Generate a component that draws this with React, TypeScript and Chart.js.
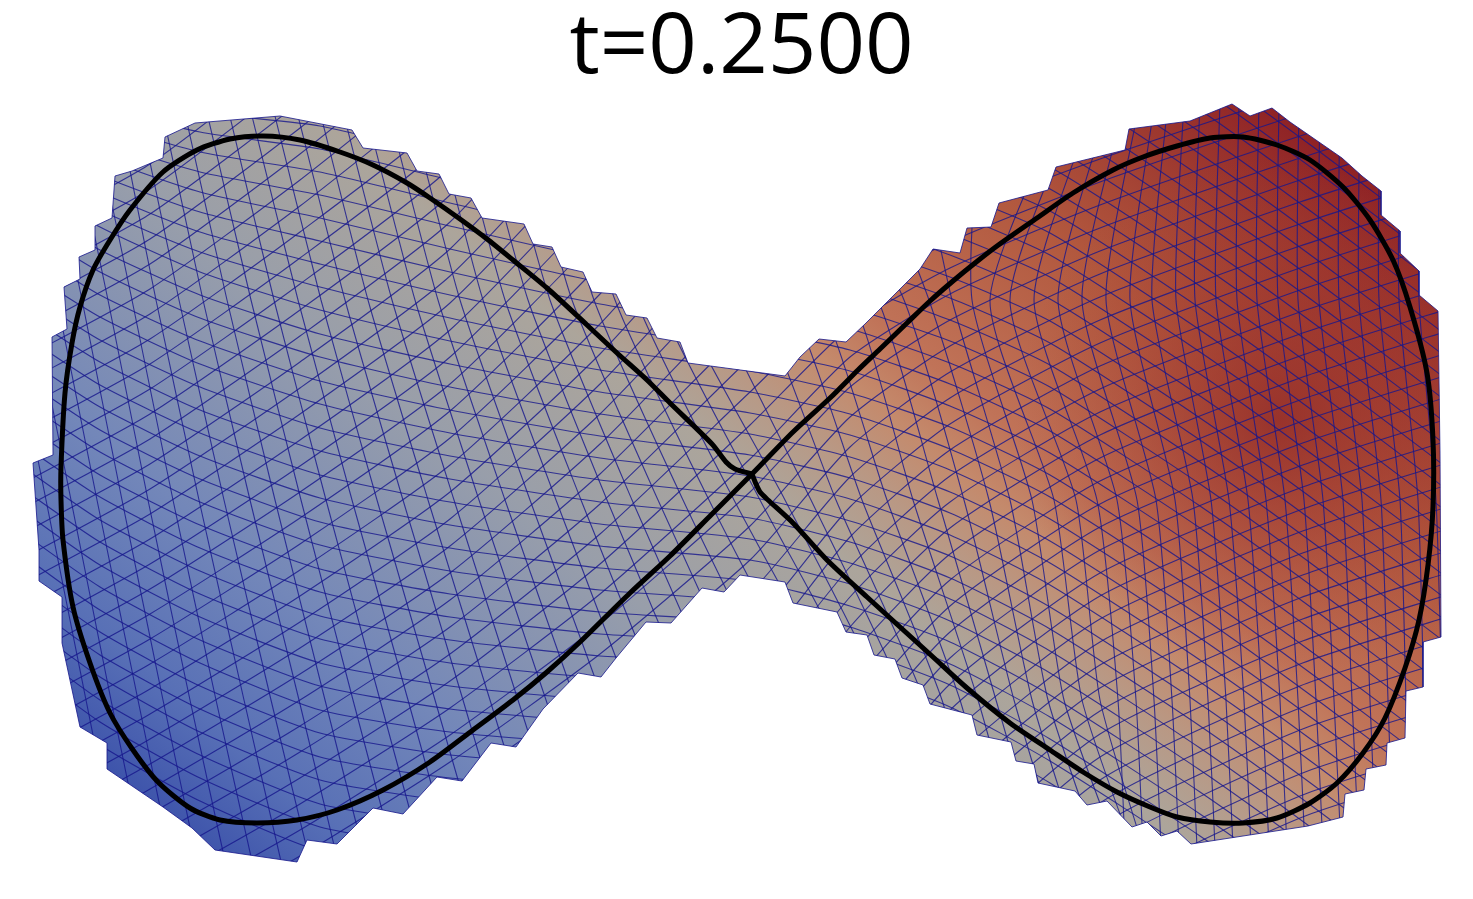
import React, { useEffect, useRef } from "react";
import { Chart, registerables } from "chart.js";

Chart.register(...registerables);

const titleText = "t=0.2500";

const boundary: number[][] = [
  [165,137],[195,123],[280,116],[352,130],[363,148],[407,153],[417,171],[439,174],[449,194],[471,198],[482,218],[524,224],[533,244],[552,247],[561,267],[583,272],[592,292],[616,294],[626,315],[647,318],[657,338],[680,342],[688,363],[785,376],[800,357],[819,339],[846,342],[865,324],[883,306],[902,287],[920,269],[933,249],[960,253],[967,228],[991,227],[999,203],[1048,190],[1056,167],[1125,150],[1129,129],[1190,121],[1232,104],[1250,116],[1272,108],[1290,122],[1342,158],[1362,176],[1381,191],[1381,215],[1400,231],[1400,253],[1419,271],[1419,295],[1438,311],[1440,453],[1441,637],[1423,642],[1423,687],[1406,691],[1405,738],[1387,743],[1386,765],[1366,769],[1364,790],[1345,794],[1343,817],[1308,826],[1191,844],[1177,831],[1161,836],[1147,822],[1132,827],[1107,801],[1087,805],[1075,791],[1038,783],[1034,764],[1016,761],[1011,742],[977,735],[972,715],[930,704],[923,685],[902,678],[895,659],[874,655],[867,635],[846,632],[837,612],[793,603],[785,582],[740,575],[724,592],[702,588],[671,623],[646,622],[616,658],[601,677],[578,673],[543,709],[516,747],[491,743],[462,781],[437,777],[403,814],[373,808],[337,844],[307,840],[297,862],[215,850],[192,828],[163,807],[107,769],[107,743],[80,727],[62,643],[62,597],[39,581],[39,550],[33,463],[53,455],[52,337],[67,329],[64,287],[80,279],[79,257],[95,250],[95,226],[112,218],[115,176],[132,171],[163,158],[165,137],
];

const curve: number[][] = [
  [752,474],[735,469],[726,462],[712,444],[670,403],[647,380],[617,353],[587,325],[547,288],[513,260],[487,239],[460,219],[430,198],[407,183],[373,165],[340,152],[300,140],[263,136],[230,139],[197,150],[163,172],[130,210],[110,240],[93,270],[80,307],[72,343],[65,393],[61,467],[61,500],[63,540],[73,607],[90,663],[110,713],[133,750],[158,782],[190,808],[220,820],[257,823],[297,820],[337,810],[383,790],[430,762],[473,730],[513,700],[547,672],[580,642],[630,593],[670,556],[712,514],[752,474],[793,432],[830,398],[858,370],[880,349],[907,323],[930,301],[953,281],[975,263],[997,246],[1037,218],[1073,193],[1113,170],[1143,157],[1177,146],[1210,138],[1243,137],[1277,145],[1310,160],[1343,187],[1370,220],[1393,260],[1410,307],[1427,373],[1433,440],[1433,507],[1428,565],[1419,620],[1405,668],[1385,718],[1363,753],[1337,783],[1310,803],[1277,818],[1243,823],[1210,822],[1177,817],[1150,807],[1117,792],[1083,772],[1050,750],[1010,723],[967,688],[933,657],[900,627],[867,597],[827,560],[793,523],[768,500],[760,492],[756,484],[752,474],
];

const rowStationsX = [20,100,200,320,450,600,750,850,950,1050,1200,1320,1470];
const rowYs: number[][] = [
  [-29,0,12,11,42,84,119,137,170,211,308,394,507],
  [-13,17,32,34,65,106,140,158,191,233,330,416,529],
  [3,35,52,57,88,128,161,180,212,255,352,438,551],
  [19,52,72,80,111,150,182,201,234,277,374,460,573],
  [35,70,92,103,134,172,203,222,255,299,396,482,595],
  [51,87,112,126,157,194,224,244,277,321,418,504,617],
  [67,105,132,149,180,216,245,265,298,343,440,526,639],
  [83,122,152,172,203,238,266,286,320,365,462,548,661],
  [99,140,172,195,226,260,287,308,341,387,484,570,683],
  [115,157,192,218,249,282,308,329,363,409,506,592,705],
  [131,175,212,241,272,304,329,350,384,431,528,614,727],
  [147,192,232,264,295,326,350,371,406,453,550,636,749],
  [163,210,252,287,318,348,371,393,427,475,572,658,771],
  [179,227,272,310,341,370,392,414,449,497,594,680,793],
  [201,250,295,334,364,392,413,435,470,519,616,702,815],
  [223,272,318,357,387,414,434,457,492,541,638,724,837],
  [245,295,341,381,410,436,455,478,513,563,660,746,859],
  [267,317,364,404,433,458,476,499,535,585,682,768,881],
  [289,340,387,428,456,480,497,521,556,607,704,790,903],
  [311,362,410,451,479,502,518,542,578,629,726,812,925],
  [333,385,433,475,502,524,539,563,599,651,748,834,947],
  [355,407,456,498,525,546,560,584,621,673,770,856,969],
  [377,430,479,522,548,568,581,606,642,695,792,878,991],
  [399,452,502,545,571,590,602,627,664,717,814,900,1013],
  [421,475,525,569,594,612,623,648,685,739,836,922,1035],
  [443,497,548,592,617,634,644,670,707,761,858,944,1057],
  [465,520,571,616,640,656,665,691,728,783,880,966,1079],
  [487,542,594,639,663,678,686,712],
  [509,565,617,663,686,700,707,734],
  [531,587,640,686,709,722,728,755],
  [553,610,663,710,732,744,749,776],
  [575,632,686,733,755,766,770,797],
  [597,655,709,757,778,788,791,818],
  [619,677,732,780,801,810,812,840],
  [641,700,755,804,824,832,833,860],
  [663,722,778,827,847,854,854,880],
  [685,745,801,851,870,876,875,900],
];

const upperRowStationsX = [850,950,1050,1200,1320,1470];
const upperRowYs: number[][] = [
  [116,148,189,286,372,485],[95,127,167,264,350,463],[73,105,145,242,328,441],[52,84,123,220,306,419],
  [31,62,101,198,284,397],[9,41,79,176,262,375],[-12,19,57,154,240,353],[-33,-2,35,132,218,331],
  [-55,-24,13,110,196,309],[-76,-45,-9,88,174,287],[-97,-67,-31,66,152,265],[-119,-88,-53,44,130,243],[-140,-110,-75,22,108,221],
];

const upStationsX = [20,150,300,450,600,750,850,950,1100,1300,1470];
const upYs: number[][] = [
  [1110,1039,960,870,774,660,537,450,366,290,236],
  [1085,1014,934,843,744,627,507,424,343,268,214],
  [1060,989,908,816,714,593,477,398,320,246,192],
  [1035,964,882,789,684,560,447,372,297,224,170],
  [1010,939,856,762,654,526,417,346,274,202,148],
  [985,914,830,735,624,492,387,320,251,180,126],
  [960,889,804,708,594,459,357,294,228,158,104],
  [935,864,778,681,564,425,327,268,205,136,82],
  [910,839,752,654,534,392,297,242,182,114,60],
  [885,814,726,627,504,358,267,216,159,92,38],
  [860,789,700,600,474,325,237,190,136,70,16],
  [835,764,674,573,444,291,207,164,113,48,-6],
  [810,739,648,546,414,258,177,138,90,26,-28],
  [785,714,622,519,384,224,147,112,67,4],
  [760,689,596,492,354,191,117,86,44],
  [735,664,570,465,324,157,87],
  [710,639,544,438,294,124,57],
  [685,614,518,411,264,90],
  [660,589,492,384,234,57],
  [635,564,466,357,204,23],
  [610,539,440,330,174,-10],
  [585,514,414,303,144,-43],
  [560,489,388,276,114,-77],
  [535,464,362,249,84],
  [510,439,336,222,54],
  [485,414,310,195,24],
  [460,389,284,168,-6],
  [435,364,258,141,-36],
  [410,339,232,114,-66],
  [385,314,206,87],
  [360,289,180,60],
  [335,264,154,33],
  [310,239,128,6],
  [285,214,102,-21],
  [260,189,76],
  [235,164,50],
  [210,139,24],
  [185,114,-2],
];

const lowerUpStationsX = [750,850,950,1100,1300,1470];
const lowerUpYs: number[][] = [
  [693,567,476,389,312,258],[727,597,502,412,334,280],[760,627,528,435,356,302],[794,657,554,458,378,324],
  [828,687,580,481,400,346],[861,717,606,504,422,368],[895,747,632,527,444,390],[928,777,658,550,466,412],
  [962,807,684,573,488,434],[995,837,710,596,510,456],[1029,867,736,619,532,478],[1062,897,762,642,554,500],
  [1096,927,788,665,576,522],[1129,957,814,688,598,544],[1163,987,840,711,620,566],[1196,1017,866,734,642,588],
  [1230,1047,892,757,664,610],[1263,1077,918,780,686,632],[1297,1107,944,803,708,654],[1330,1137,970,826,730,676],
  [1364,1167,996,849,752,698],[1397,1197,1022,872,774,720],[1431,1227,1048,895,796,742],[1464,1257,1074,918,818,764],
];

const downStationsY = [100,300,500,700,870];
const downXs: number[][] = [
  [-60,-20,20,60,94],[-34,6,46,86,120],[-9,31,71,111,146],[16,57,97,138,173],[41,82,122,163,199],
  [66,108,148,190,227],[90,132,173,216,254],[116,156,199,244,283],[137,179,224,271,312],[160,203,250,299,340],
  [182,227,275,325,368],[204,251,301,353,398],[226,274,326,380,426],[248,298,352,408,455],[271,321,377,435,484],
  [294,345,403,463,513],[317,368,428,490,542],[340,392,454,518,572],[363,415,479,546,601],[386,438,505,575,632],
  [408,460,530,603,662],[431,483,556,632,693],[452,505,581,661,725],[474,528,607,691,758],[495,550,632,720,790],
  [517,572,658,750,834],[538,594,683,781,870],[558,615,709,813,905],[580,636,734,844,945],[600,658,760,865,905],
  [620,678,785,885,925],[630,712,811,905,945],[640,758,836,924,965],[660,790,862,942,985],[690,820,887,960,1005],
  [720,853,913,978,1025],[760,878,938,996,1045],[800,904,964,1014,1065],[850,929,989,1032,1085],[910,952,1010,1048,1105],
  [980,972,1032,1064,1125],[1065,990,1054,1082,1140],[1080,1010,1076,1100,1150],[1095,1034,1097,1118,1126],[1110,1058,1117,1136,1144],
  [1125,1082,1137,1154,1162],[1140,1106,1156,1172,1180],[1155,1130,1175,1190,1198],[1168,1152,1193,1208,1216],[1184,1176,1211,1226,1234],
  [1200,1195,1229,1244,1252],[1220,1216,1248,1262,1270],[1239,1237,1266,1280,1288],[1259,1257,1285,1298,1306],[1279,1278,1304,1316,1324],
  [1299,1298,1323,1334,1342],[1320,1319,1343,1352,1360],[1340,1339,1362,1370,1377],[1360,1359,1381,1388,1394],[1380,1379,1400,1406,1412],
  [1400,1399,1418,1424,1430],[1420,1419,1436,1442,1448],[1440,1439,1450,1456,1460],
];

const MESH = "rgba(22,22,140,0.8)";
const pairs = (p: number[][]) => p.map(([x, y]) => ({ x, y }));

const meshLine = (data: { x: number; y: number }[]) => ({
  label: "mesh",
  data,
  showLine: true,
  pointRadius: 0,
  borderColor: MESH,
  borderWidth: 1.1,
  tension: 0.2,
  fill: false,
});

const meshDatasets = [
  ...rowYs.map((ys) => meshLine(ys.map((y, i) => ({ x: rowStationsX[i], y })))),
  ...upperRowYs.map((ys) => meshLine(ys.map((y, i) => ({ x: upperRowStationsX[i], y })))),
  ...upYs.map((ys) => meshLine(ys.map((y, i) => ({ x: upStationsX[i], y })))),
  ...lowerUpYs.map((ys) => meshLine(ys.map((y, i) => ({ x: lowerUpStationsX[i], y })))),
  ...downXs.map((xs) => meshLine(xs.map((x, i) => ({ x, y: downStationsY[i] })))),
];

const tracePath = (chart: any) => {
  const { x, y } = chart.scales;
  const { ctx } = chart;
  ctx.beginPath();
  boundary.forEach(([px, py], i) => {
    const a = x.getPixelForValue(px);
    const b = y.getPixelForValue(py);
    if (i === 0) ctx.moveTo(a, b);
    else ctx.lineTo(a, b);
  });
  ctx.closePath();
};

const meshClip = {
  id: "meshClip",
  beforeDatasetDraw(chart: any, args: any) {
    if (chart.data.datasets[args.index].label !== "mesh") return;
    chart.ctx.save();
    tracePath(chart);
    chart.ctx.clip();
  },
  afterDatasetDraw(chart: any, args: any) {
    if (chart.data.datasets[args.index].label !== "mesh") return;
    chart.ctx.restore();
  },
};

const baseFill = (c: any) => {
  const { chart } = c;
  const { x, y } = chart.scales;
  if (!chart.chartArea || !x || !y) return "#999";
  const g = chart.ctx.createLinearGradient(
    x.getPixelForValue(340), y.getPixelForValue(972),
    x.getPixelForValue(1160), y.getPixelForValue(-12),
  );
  g.addColorStop(0, "rgb(60,82,170)");
  g.addColorStop(0.085, "rgb(88,112,182)");
  g.addColorStop(0.2, "rgb(115,135,185)");
  g.addColorStop(0.37, "rgb(152,158,170)");
  g.addColorStop(0.5, "rgb(172,165,155)");
  g.addColorStop(0.56, "rgb(185,152,132)");
  g.addColorStop(0.61, "rgb(196,138,108)");
  g.addColorStop(0.66, "rgb(192,115,88)");
  g.addColorStop(0.8, "rgb(178,88,62)");
  g.addColorStop(1, "rgb(140,30,35)");
  return g;
};

const hotFill = (c: any) => {
  const { chart } = c;
  const { x, y } = chart.scales;
  if (!chart.chartArea || !x || !y) return "rgba(0,0,0,0)";
  const cx = x.getPixelForValue(1280);
  const cy = y.getPixelForValue(420);
  const g = chart.ctx.createRadialGradient(cx, cy, 0, cx, cy, 265);
  g.addColorStop(0, "rgba(145,40,38,0.78)");
  g.addColorStop(0.45, "rgba(155,48,42,0.42)");
  g.addColorStop(1, "rgba(170,70,50,0)");
  return g;
};

export default function App() {
  const ref = useRef<HTMLCanvasElement>(null);
  useEffect(() => {
    document.body.style.margin = "0";
    document.body.style.background = "#fff";
    const chart = new Chart(ref.current!, {
      type: "scatter",
      plugins: [meshClip],
      data: {
        datasets: [
          {
            label: "interface",
            data: pairs(curve),
            showLine: true,
            pointRadius: 0,
            borderColor: "#000",
            borderWidth: 5,
            tension: 0.25,
            fill: false,
          },
          ...meshDatasets,
          {
            label: "hot",
            data: pairs(boundary),
            showLine: true,
            pointRadius: 0,
            borderWidth: 0,
            tension: 0,
            fill: "shape",
            backgroundColor: hotFill,
          },
          {
            label: "domain",
            data: pairs(boundary),
            showLine: true,
            pointRadius: 0,
            borderColor: MESH,
            borderWidth: 1,
            tension: 0,
            fill: "shape",
            backgroundColor: baseFill,
          },
        ] as any,
      },
      options: {
        animation: false,
        responsive: false,
        layout: { padding: { left: 10 } },
        scales: {
          x: { type: "linear", display: false, min: 10, max: 1473 },
          y: { type: "linear", display: false, min: 102, max: 899, reverse: true },
        },
        plugins: {
          legend: { display: false },
          tooltip: { enabled: false },
          title: {
            display: true,
            text: titleText,
            color: "#000",
            font: { family: "'Open Sans'", size: 85, weight: "normal", lineHeight: 1.2 },
            padding: { top: -2, bottom: 2 },
          },
        },
      } as any,
    });
    return () => chart.destroy();
  }, []);
  return <canvas ref={ref} width={1473} height={899} style={{ display: "block" }} />;
}
